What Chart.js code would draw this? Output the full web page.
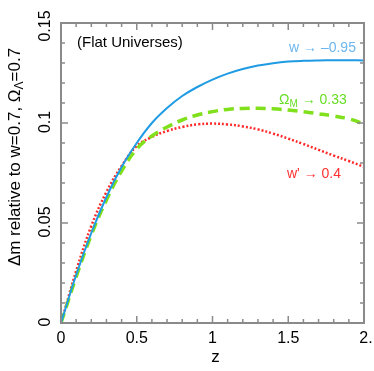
<!DOCTYPE html>
<html>
<head>
<meta charset="utf-8">
<script src="https://cdn.jsdelivr.net/npm/chart.js@4/dist/chart.umd.min.js"></script>
<style>
html,body{margin:0;padding:0;background:#fff;}
canvas{display:block;}
</style>
</head>
<body>
<canvas id="c" width="374" height="371"></canvas>
<script>
const zValues = [0, 0.1, 0.2, 0.3, 0.4, 0.5, 0.6, 0.7, 0.8, 0.9, 1.0, 1.1, 1.2, 1.3, 1.4, 1.5, 1.6, 1.7, 1.8, 1.9, 2.0];
const wSeries = [0, 0.024, 0.045, 0.063, 0.078, 0.090, 0.100, 0.1075, 0.1135, 0.118, 0.1217, 0.1247, 0.127, 0.1287, 0.1299, 0.1307, 0.1311, 0.1313, 0.1314, 0.1314, 0.1313];
const omegaSeries = [0, 0.023, 0.044, 0.0615, 0.076, 0.087, 0.0935, 0.098, 0.1015, 0.104, 0.1057, 0.1068, 0.1073, 0.1074, 0.1071, 0.1065, 0.1056, 0.1046, 0.1035, 0.1021, 0.0996];
const wPrimeSeries = [0, 0.026, 0.0485, 0.0655, 0.0785, 0.0885, 0.093, 0.096, 0.098, 0.0993, 0.0997, 0.0993, 0.0983, 0.0968, 0.0947, 0.0922, 0.0895, 0.0866, 0.0837, 0.081, 0.078];
const xTickLabels = ["0", "0.5", "1", "1.5", "2."];
const xTickValues = [0, 0.5, 1, 1.5, 2];
const yTickLabels = ["0", "0.05", "0.1", "0.15"];
const yTickValues = [0, 0.05, 0.1, 0.15];

const toPts = arr => arr.map((v, i) => ({x: zValues[i], y: v}));
const FONT = '"Liberation Sans", Arial, Helvetica, sans-serif';

const framePlugin = {
  id: 'frame',
  afterDraw(chart) {
    const ctx = chart.ctx;
    const xs = chart.scales.x, ys = chart.scales.y;
    const L = xs.left, R = xs.right, T = ys.top, B = ys.bottom;
    ctx.save();
    ctx.strokeStyle = '#8a8a8a';
    ctx.lineWidth = 2;
    ctx.strokeRect(L, T, R - L, B - T);
    ctx.lineWidth = 1.5;
    for (let i = 0; i <= 20; i++) {
      const px = xs.getPixelForValue(i / 10);
      const len = (i % 5 === 0) ? 7 : 4;
      ctx.beginPath();
      ctx.moveTo(px, B); ctx.lineTo(px, B - len);
      ctx.moveTo(px, T); ctx.lineTo(px, T + len);
      ctx.stroke();
    }
    for (let i = 0; i <= 15; i++) {
      const py = ys.getPixelForValue(i / 100);
      const len = (i % 5 === 0) ? 7 : 4;
      ctx.beginPath();
      ctx.moveTo(L, py); ctx.lineTo(L + len, py);
      ctx.moveTo(R, py); ctx.lineTo(R - len, py);
      ctx.stroke();
    }
    ctx.fillStyle = '#000';
    ctx.font = '16px ' + FONT;
    ctx.textAlign = 'center';
    ctx.textBaseline = 'middle';
    xTickValues.forEach((v, i) => {
      const px = xs.getPixelForValue(v);
      ctx.fillText(xTickLabels[i], px + (i === xTickValues.length - 1 ? 2 : 0), B + 16);
    });
    yTickValues.forEach((v, i) => {
      const py = ys.getPixelForValue(v);
      ctx.save();
      ctx.translate(L - 15, py - (i === yTickValues.length - 1 ? -3 : 1));
      ctx.rotate(-Math.PI / 2);
      ctx.fillText(yTickLabels[i], 0, 0);
      ctx.restore();
    });
    ctx.font = '17px ' + FONT;
    ctx.fillText('z', (L + R) / 2 + 3, B + 34);
    ctx.save();
    ctx.translate(15, 157);
    ctx.rotate(-Math.PI / 2);
    const p1 = '\u0394m relative to w=0.7, \u03A9';
    const p2 = '\u039B';
    const p3 = '=0.7';
    ctx.font = '17px ' + FONT;
    const w1 = ctx.measureText(p1).width, w3 = ctx.measureText(p3).width;
    ctx.font = '12px ' + FONT;
    const w2 = ctx.measureText(p2).width;
    const x0 = -(w1 + w2 + w3) / 2;
    ctx.textAlign = 'left';
    ctx.font = '17px ' + FONT;
    ctx.fillText(p1, x0, 0);
    ctx.font = '12px ' + FONT;
    ctx.fillText(p2, x0 + w1, 5);
    ctx.font = '17px ' + FONT;
    ctx.fillText(p3, x0 + w1 + w2, 0);
    ctx.restore();
    ctx.textAlign = 'left';
    ctx.font = '15px ' + FONT;
    ctx.fillStyle = '#000';
    ctx.fillText('(Flat Universes)', 77, 43);
    ctx.font = '14px ' + FONT;
    ctx.fillStyle = '#6cb6f0';
    ctx.fillText('w \u2192 \u20130.95', 289, 48);
    ctx.fillStyle = '#66dd22';
    ctx.fillText('\u03A9', 279, 100);
    const wO = ctx.measureText('\u03A9').width;
    ctx.font = '10px ' + FONT;
    ctx.fillText('M', 279 + wO, 104);
    const wM = ctx.measureText('M').width;
    ctx.font = '14px ' + FONT;
    ctx.fillText(' \u2192 0.33', 279 + wO + wM, 100);
    ctx.fillStyle = '#ff3030';
    ctx.fillText('w\' \u2192 0.4', 287, 174);
    ctx.restore();
  }
};

new Chart(document.getElementById('c'), {
  type: 'scatter',
  data: {
    datasets: [
      {label: 'w', data: toPts(wSeries), showLine: true, borderColor: '#1f9be3', borderWidth: 2, pointRadius: 0, tension: 0.4, fill: false},
      {label: 'OmegaM', data: toPts(omegaSeries), showLine: true, borderColor: '#80e01c', borderWidth: 3.5, borderDash: [10, 6], pointRadius: 0, tension: 0.4, fill: false},
      {label: "w'", data: toPts(wPrimeSeries), showLine: true, borderColor: '#ff2a2a', borderWidth: 2.5, borderDash: [2, 2], pointRadius: 0, tension: 0.4, fill: false}
    ]
  },
  options: {
    responsive: false,
    devicePixelRatio: 1,
    animation: false,
    layout: {padding: {left: 61, right: 10, top: 23, bottom: 48}},
    plugins: {legend: {display: false}, tooltip: {enabled: false}},
    scales: {
      x: {type: 'linear', min: 0, max: 2, display: false},
      y: {type: 'linear', min: 0, max: 0.15, display: false}
    }
  },
  plugins: [framePlugin]
});
</script>
</body>
</html>
